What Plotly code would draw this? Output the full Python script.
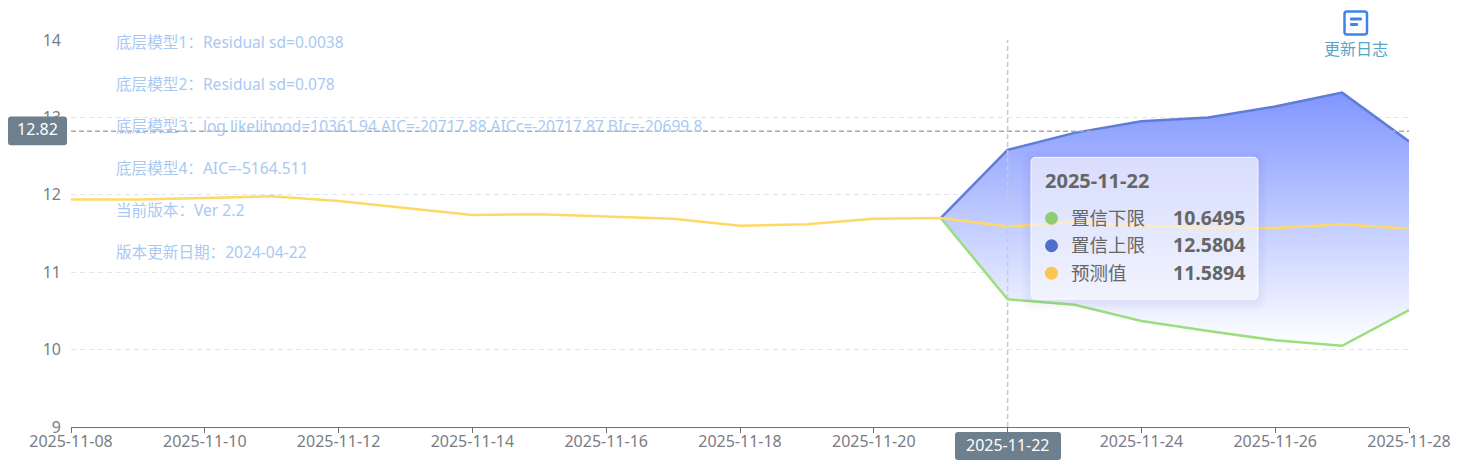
import plotly.graph_objects as go

dates = ["2025-11-08", "2025-11-09", "2025-11-10", "2025-11-11", "2025-11-12", "2025-11-13", "2025-11-14",
         "2025-11-15", "2025-11-16", "2025-11-17", "2025-11-18", "2025-11-19", "2025-11-20", "2025-11-21",
         "2025-11-22", "2025-11-23", "2025-11-24", "2025-11-25", "2025-11-26", "2025-11-27", "2025-11-28"]
forecast = [11.94, 11.94, 11.96, 11.98, 11.92, 11.83, 11.74,
            11.75, 11.72, 11.69, 11.60, 11.62, 11.69, 11.70,
            11.5894, 11.65, 11.60, 11.57, 11.57, 11.62, 11.56]
band_dates = ["2025-11-21", "2025-11-22", "2025-11-23", "2025-11-24", "2025-11-25", "2025-11-26", "2025-11-27", "2025-11-28"]
upper = [11.70, 12.5804, 12.80, 12.95, 13.00, 13.14, 13.32, 12.69]
lower = [11.70, 10.6495, 10.58, 10.37, 10.24, 10.12, 10.05, 10.51]

tick_dates = dates[::2]
y_ticks = [9, 10, 11, 12, 13, 14]
model_notes = ["底层模型1：Residual sd=0.0038", "底层模型2：Residual sd=0.078",
               "底层模型3：log likelihood=10361.94 AIC=-20717.88 AICc=-20717.87 BIc=-20699.8",
               "底层模型4：AIC=-5164.511", "当前版本：Ver 2.2", "版本更新日期：2024-04-22"]
pointer_date = "2025-11-22"
pointer_value = 12.82
tooltip_rows = [("置信下限", "10.6495", "#91cc75"), ("置信上限", "12.5804", "#4f6fca"), ("预测值", "11.5894", "#fdc550")]

FONT = "Noto Sans, Noto Sans CJK SC, sans-serif"
W, H = 1460, 471
L, R, T, B = 71, 1409, 39.5, 427


# 图上的浮层都按像素摆放，这里换算成 paper 坐标
def px(x):
    return (x - L) / (R - L)


def py(y):
    return (B - y) / (B - T)


def round_rect(x0, y0, x1, y1, r):
    a, b, c, d = px(x0), px(x1), py(y0), py(y1)
    rx, ry = r / (R - L), r / (B - T)
    return (f"M{a + rx},{c} L{b - rx},{c} Q{b},{c} {b},{c - ry} L{b},{d + ry} Q{b},{d} {b - rx},{d} "
            f"L{a + rx},{d} Q{a},{d} {a},{d + ry} L{a},{c - ry} Q{a},{c} {a + rx},{c} Z")


def box(x0, y0, x1, y1, r, fill, line="rgba(0,0,0,0)", width=0):
    return dict(type="path", xref="paper", yref="paper", path=round_rect(x0, y0, x1, y1, r),
                fillcolor=fill, line=dict(color=line, width=width), layer="above")


def label(x, y, text, color, size=16, anchor="center"):
    nudge = {"left": -2, "right": 2, "center": 0}[anchor]
    return dict(xref="paper", yref="paper", x=px(x + nudge), y=py(y), text=text, showarrow=False,
                xanchor=anchor, yanchor="middle", font=dict(family=FONT, size=size, color=color))


fig = go.Figure()
fig.add_trace(go.Scatter(x=band_dates, y=lower, mode="lines", line=dict(color="#9bde7c", width=2.5), hoverinfo="skip"))
fig.add_trace(go.Scatter(x=band_dates, y=upper, mode="lines", line=dict(color="#5f7dd8", width=2.5), hoverinfo="skip",
                         fill="tonexty",
                         fillgradient=dict(type="vertical",
                                           colorscale=[[0, "rgba(255,255,255,1)"], [1, "rgba(128,150,255,1)"]])))
fig.add_trace(go.Scatter(x=dates, y=forecast, mode="lines", line=dict(color="#ffd966", width=2.5), hoverinfo="skip"))

shapes = [
    dict(type="line", xref="paper", yref="y", x0=0, x1=1, y0=pointer_value, y1=pointer_value,
         line=dict(color="#aaaaaa", width=1.5, dash="5px,3px"), layer="above"),
    dict(type="line", xref="x", yref="paper", x0=pointer_date, x1=pointer_date, y0=0, y1=1,
         line=dict(color="#c5cae0", width=1.5, dash="5px,3px"), layer="above"),
    box(8, 116, 67, 145, 3, "#6e7f8d"),
    box(955, 432, 1061, 460, 3, "#6e7f8d"),
]
# 提示框阴影
for i in range(6, 0, -1):
    shapes.append(box(1031 - i * 1.6, 157 - i * 1.6 + 2, 1258 + i * 1.6, 299 + i * 1.6 + 2, 6 + i, "rgba(50,60,150,0.012)"))
shapes.append(box(1031, 157, 1258, 299, 5, "rgba(255,255,255,0.62)", "rgba(255,255,255,0.85)", 1))
# 更新日志图标
shapes.append(box(1344.5, 11, 1367, 34, 2.5, "#ffffff", "#3f83ea", 2.5))
shapes.append(box(1350, 17, 1362, 20, 1, "#3f83ea"))
shapes.append(box(1350, 22.5, 1358, 25.5, 1, "#3f83ea"))

annotations = [label(116, 42 + i * 42, t, "#a9c9f2", 15.6, "left") for i, t in enumerate(model_notes)]
annotations += [
    label(37.5, 129, f"{pointer_value}", "#ffffff"),
    label(1008, 445, pointer_date, "#ffffff"),
    label(1355.5, 49, "更新日志", "#56a5c8"),
    label(1045, 180, f"<b>{pointer_date}</b>", "#666666", 20, "left"),
]
for i, (name, value, color) in enumerate(tooltip_rows):
    row_y = 218 + i * 27.5
    shapes.append(dict(type="circle", xref="paper", yref="paper", x0=px(1045), x1=px(1058), y0=py(row_y - 6.5), y1=py(row_y + 6.5),
                       fillcolor=color, line=dict(width=0), layer="above"))
    annotations.append(label(1071, row_y - 1, name, "#666666", 18.5, "left"))
    annotations.append(label(1245, row_y - 1, f"<b>{value}</b>", "#666666", 19.5, "right"))

fig.update_layout(
    width=W, height=H,
    margin=dict(l=L, r=W - R, t=T, b=H - B, pad=0),
    plot_bgcolor="#ffffff", paper_bgcolor="#ffffff",
    showlegend=False,
    font=dict(family=FONT, size=16, color="#7a7c85"),
    shapes=shapes,
    annotations=annotations,
    xaxis=dict(range=[dates[0], dates[-1]], tickvals=tick_dates, ticktext=tick_dates, showgrid=False, zeroline=False,
               showline=True, linecolor="#6e7079", linewidth=1.3, ticks="outside", ticklen=5, tickcolor="#6e7079",
               automargin=False, ticklabelstandoff=-5),
    yaxis=dict(range=[9, 14], tickvals=y_ticks, showgrid=True, gridcolor="#e0e6f1", griddash="5px,4px", gridwidth=1.3,
               zeroline=False, showline=False, ticks="", ticklabelstandoff=9, automargin=False),
)

fig.write_html("out.html", config={"displayModeBar": False},
               post_script="document.body.style.margin='0';document.body.style.overflow='hidden';")
